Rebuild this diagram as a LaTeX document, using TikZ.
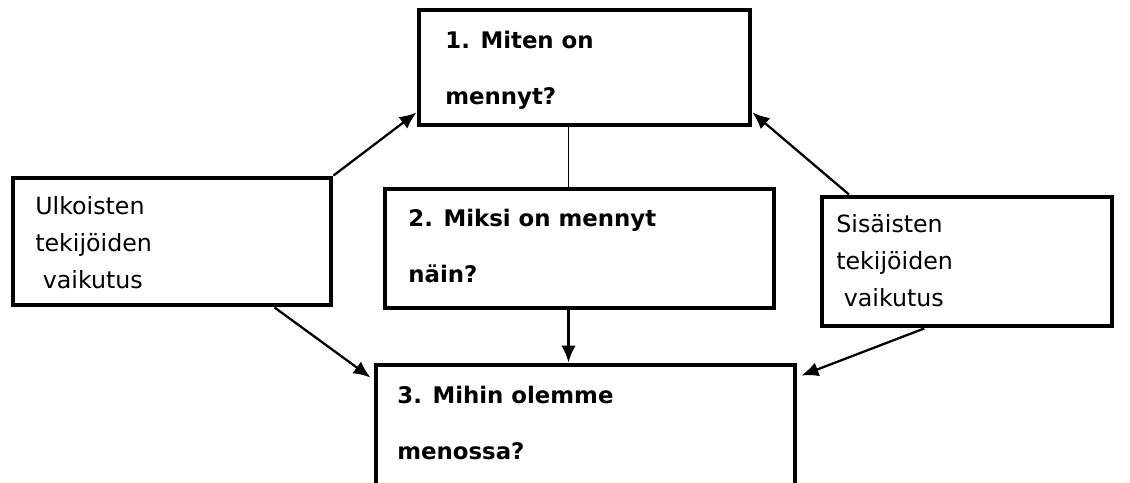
\documentclass[tikz,border=0pt]{standalone}
\usepackage{fontspec}
\setmainfont{DejaVu Sans}
\usetikzlibrary{calc,arrows.meta}
\tikzset{box/.style={draw, line width=2.8pt, inner sep=0pt}}
\tikzset{headtext/.style={anchor=north west, inner sep=0pt, align=left, font=\fontsize{13}{31.9}\selectfont\bfseries}}
\tikzset{sidetext/.style={anchor=north west, inner sep=0pt, align=left, font=\fontsize{13.5}{21}\selectfont}}
\tikzset{linkarrow/.style={line width=1.3pt, -{Latex[length=3.4mm,width=2.9mm]}}}

\begin{document}
\begin{tikzpicture}[x=0.02cm, y=-0.02cm]
    \useasboundingbox (0,0) rectangle (1130,483);
    \clip (0,0) rectangle (1130,483);
    \foreach \name/\x/\y/\w/\h in {b1/584.5/67.5/331/115, ulk/172/241.5/318/127, b2/579.5/248.5/389/119, sis/967/261.5/290/129, b3/585.5/447.5/419/165}
    {
        \node[box, minimum width=\w*0.02cm, minimum height=\h*0.02cm] (\name) at (\x,\y) {};
    }
    \node[headtext] (t1) at (445,31) {1. Miten on\\mennyt?};
    \node[headtext] (t2) at (408,209) {2. Miksi on mennyt\\näin?};
    \node[headtext] (t3) at (397,386) {3. Mihin olemme\\menossa?};
    \node[sidetext] (tu) at (35,196) {Ulkoisten\\tekijöiden\\\ vaikutus};
    \node[sidetext] (ts) at (836,214) {Sisäisten\\tekijöiden\\\ vaikutus};
    \draw [linkarrow] (ulk.north east) -- (b1.195);
    \draw [linkarrow] ($(sis.north west)!0.1!(sis.north east)$) -- (b1.345);
    \draw [line width=0.7pt] ($(b1.south)+(-16,0)$) -- ($(b2.north)+(-11,0)$);
    \draw [linkarrow] ($(b2.south)+(-11,0)$) -- ($(b3.north)+(-17,0)$);
    \draw [linkarrow] ($(ulk.south)!0.635!(ulk.south east)$) -- ($(b3.north west)+(-3,15)$);
    \draw [linkarrow] ($(sis.south)!0.29!(sis.south west)$) -- ($(b3.north east)+(4,13)$);
\end{tikzpicture}
\end{document}
